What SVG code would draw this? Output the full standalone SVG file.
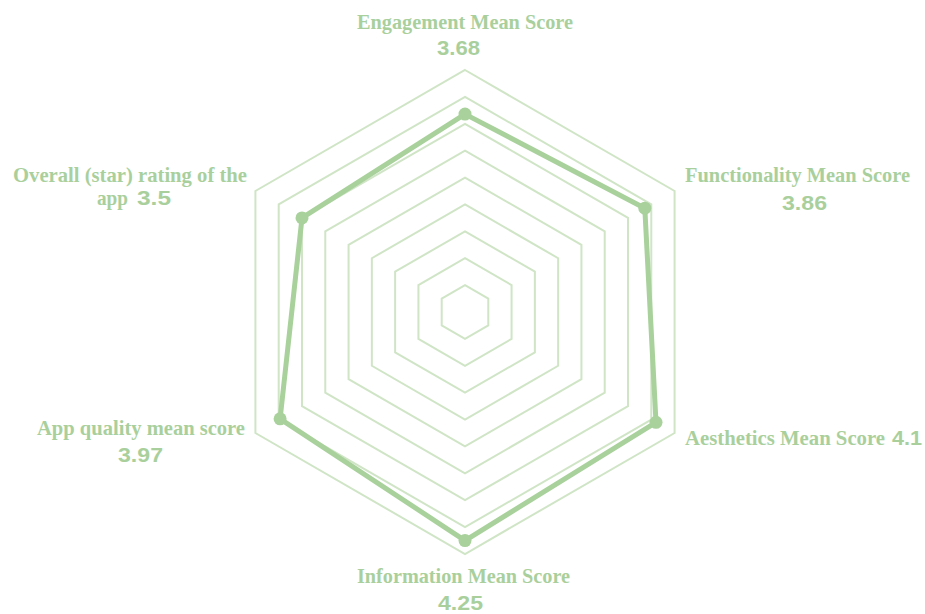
<svg xmlns="http://www.w3.org/2000/svg" width="925" height="614" viewBox="0 0 925 614">
<style>
.grid{fill:none;stroke:#cfe5c6;stroke-width:2}
.data{fill:none;stroke:#a8d19b;stroke-width:5;stroke-linejoin:round}
.pt{fill:#a8d19b}
.lab{font-family:"Liberation Serif","DejaVu Serif",serif;font-weight:bold;font-size:21px;fill:#a9d09c}
.num{font-family:"Liberation Sans","DejaVu Sans",sans-serif;font-weight:bold;font-size:20px;fill:#a9d09c}
</style>
<rect width="925" height="614" fill="#ffffff"/>
<g id="grid">
<polygon class="grid" points="465,285.11 488.29,298.56 488.29,325.44 465,338.89 441.71,325.44 441.71,298.56"/>
<polygon class="grid" points="465,258.22 511.57,285.11 511.57,338.89 465,365.78 418.43,338.89 418.43,285.11"/>
<polygon class="grid" points="465,231.33 534.86,271.67 534.86,352.33 465,392.67 395.14,352.33 395.14,271.67"/>
<polygon class="grid" points="465,204.44 558.15,258.22 558.15,365.78 465,419.56 371.85,365.78 371.85,258.22"/>
<polygon class="grid" points="465,177.56 581.43,244.78 581.43,379.22 465,446.44 348.57,379.22 348.57,244.78"/>
<polygon class="grid" points="465,150.67 604.72,231.33 604.72,392.67 465,473.33 325.28,392.67 325.28,231.33"/>
<polygon class="grid" points="465,123.78 628,217.89 628,406.11 465,500.22 302,406.11 302,217.89"/>
<polygon class="grid" points="465,96.89 651.29,204.44 651.29,419.56 465,527.11 278.71,419.56 278.71,204.44"/>
<polygon class="grid" points="465,70 674.58,191 674.58,433 465,554 255.42,433 255.42,191"/>
</g>
<g id="connectors">
<polygon class="data" points="465,114.1 644.8,208.2 656,422.3 465,540.6 280.1,418.8 302,217.9"/>
</g>
<g id="points">
<circle class="pt" cx="465" cy="114.1" r="6.5"/>
<circle class="pt" cx="644.8" cy="208.2" r="6.5"/>
<circle class="pt" cx="656" cy="422.3" r="6.5"/>
<circle class="pt" cx="465" cy="540.6" r="6.5"/>
<circle class="pt" cx="280.1" cy="418.8" r="6.5"/>
<circle class="pt" cx="302" cy="217.9" r="6.5"/>
</g>
<g id="engagement">
<text class="lab" x="357" y="29" textLength="216" lengthAdjust="spacingAndGlyphs">Engagement Mean Score</text>
<text class="num" x="437" y="55" textLength="43" lengthAdjust="spacingAndGlyphs">3.68</text>
</g>
<g id="functionality">
<text class="lab" x="685" y="182" textLength="225" lengthAdjust="spacingAndGlyphs">Functionality Mean Score</text>
<text class="num" x="782" y="210" textLength="45" lengthAdjust="spacingAndGlyphs">3.86</text>
</g>
<g id="aesthetics">
<text class="lab" x="685" y="445" textLength="200" lengthAdjust="spacingAndGlyphs">Aesthetics Mean Score</text>
<text class="num" x="892" y="445" textLength="30" lengthAdjust="spacingAndGlyphs">4.1</text>
</g>
<g id="information">
<text class="lab" x="357" y="583" textLength="213" lengthAdjust="spacingAndGlyphs">Information Mean Score</text>
<text class="num" x="438" y="610" textLength="45" lengthAdjust="spacingAndGlyphs">4.25</text>
</g>
<g id="appquality">
<text class="lab" x="37" y="435" textLength="208" lengthAdjust="spacingAndGlyphs">App quality mean score</text>
<text class="num" x="118" y="462" textLength="45" lengthAdjust="spacingAndGlyphs">3.97</text>
</g>
<g id="overall">
<text class="lab" x="13" y="182" textLength="234" lengthAdjust="spacingAndGlyphs">Overall (star) rating of the</text>
<text class="lab" x="97" y="205" textLength="31" lengthAdjust="spacingAndGlyphs">app</text>
<text class="num" x="137" y="205" textLength="34" lengthAdjust="spacingAndGlyphs">3.5</text>
</g>
</svg>
